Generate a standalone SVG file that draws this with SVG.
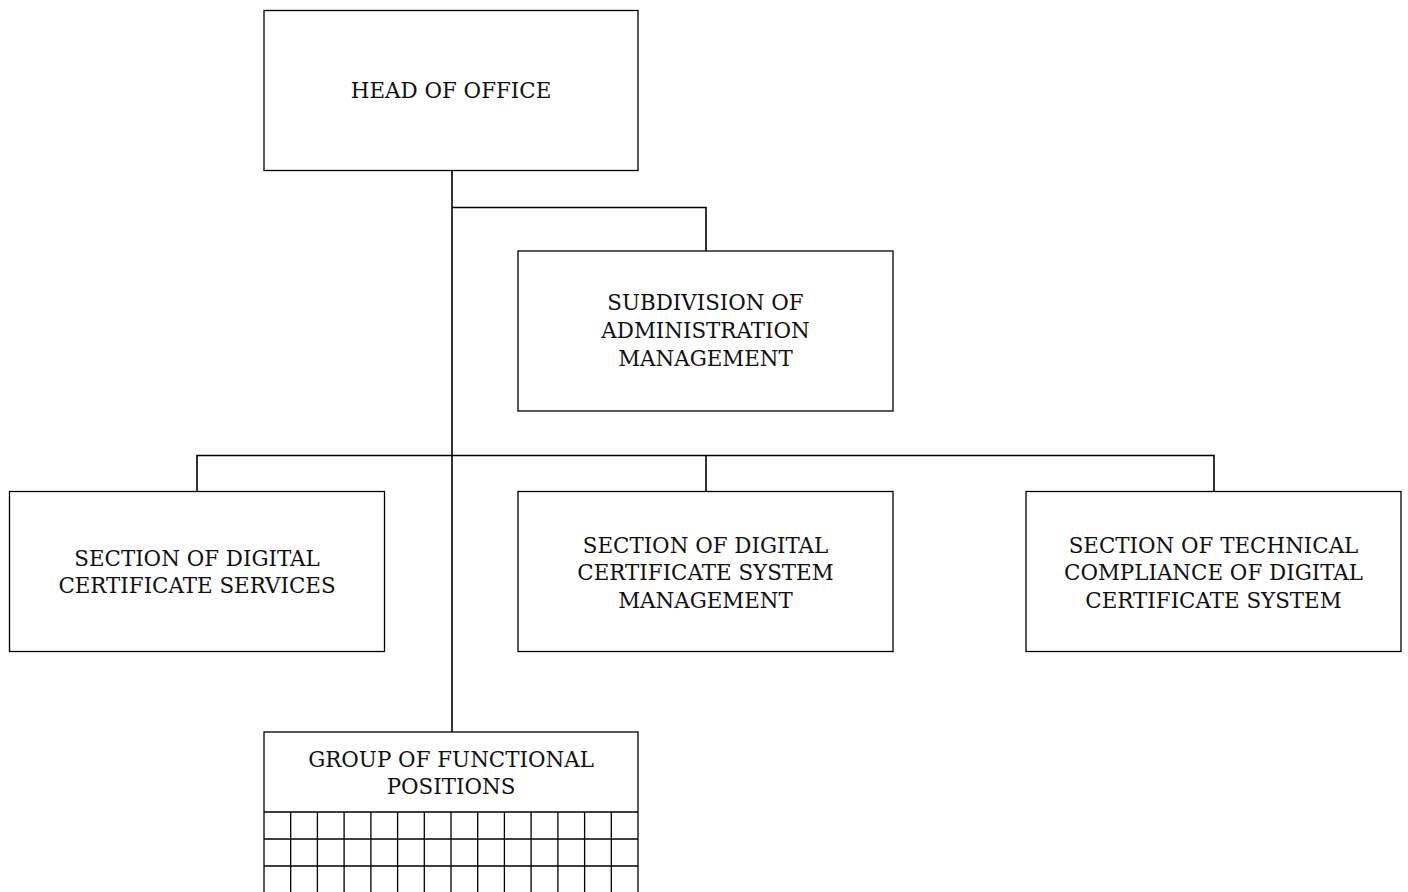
<svg xmlns="http://www.w3.org/2000/svg" width="1408" height="892" viewBox="0 0 1408 892">
<style>
.box{fill:#fff;stroke:#000;stroke-width:1.3}
.ln{fill:none;stroke:#000;stroke-width:1.6}
.g{fill:none;stroke:#000;stroke-width:1.3}
text{font-family:"DejaVu Serif","Liberation Serif",serif;font-size:21.4px;fill:#111;text-anchor:middle}
</style>
<rect width="1408" height="892" fill="#fff"/>
<g id="connectors">
<path class="ln" d="M452 171V732"/>
<path class="ln" d="M452 207.5H706V251"/>
<path class="ln" d="M197 491.5V455.5H1214V491.5"/>
<path class="ln" d="M706 455.5V491.5"/>
</g>
<g id="head">
<rect class="box" x="264" y="10.5" width="374" height="160"/>
<text x="451" y="98">HEAD OF OFFICE</text>
</g>
<g id="subdivision">
<rect class="box" x="518" y="251" width="375" height="160"/>
<text x="705.5" y="309.5">SUBDIVISION OF</text>
<text x="705.5" y="337.5">ADMINISTRATION</text>
<text x="705.5" y="365.5">MANAGEMENT</text>
</g>
<g id="services">
<rect class="box" x="9.5" y="491.5" width="375" height="160"/>
<text x="197" y="565.5">SECTION OF DIGITAL</text>
<text x="197" y="593">CERTIFICATE SERVICES</text>
</g>
<g id="system">
<rect class="box" x="518" y="491.5" width="375" height="160"/>
<text x="705.5" y="552.5">SECTION OF DIGITAL</text>
<text x="705.5" y="580">CERTIFICATE SYSTEM</text>
<text x="705.5" y="607.5">MANAGEMENT</text>
</g>
<g id="compliance">
<rect class="box" x="1026" y="491.5" width="375" height="160"/>
<text x="1213.5" y="552.5">SECTION OF TECHNICAL</text>
<text x="1213.5" y="580">COMPLIANCE OF DIGITAL</text>
<text x="1213.5" y="607.5">CERTIFICATE SYSTEM</text>
</g>
<g id="functional">
<rect class="box" x="264" y="732" width="374" height="180"/>
<path class="g" d="M264 812H638M264 839H638M264 866H638M290.7 812V892M317.4 812V892M344.1 812V892M370.9 812V892M397.6 812V892M424.3 812V892M451 812V892M477.7 812V892M504.4 812V892M531.1 812V892M557.9 812V892M584.6 812V892M611.3 812V892"/>
<text x="451" y="766.5">GROUP OF FUNCTIONAL</text>
<text x="451" y="794">POSITIONS</text>
</g>
</svg>
